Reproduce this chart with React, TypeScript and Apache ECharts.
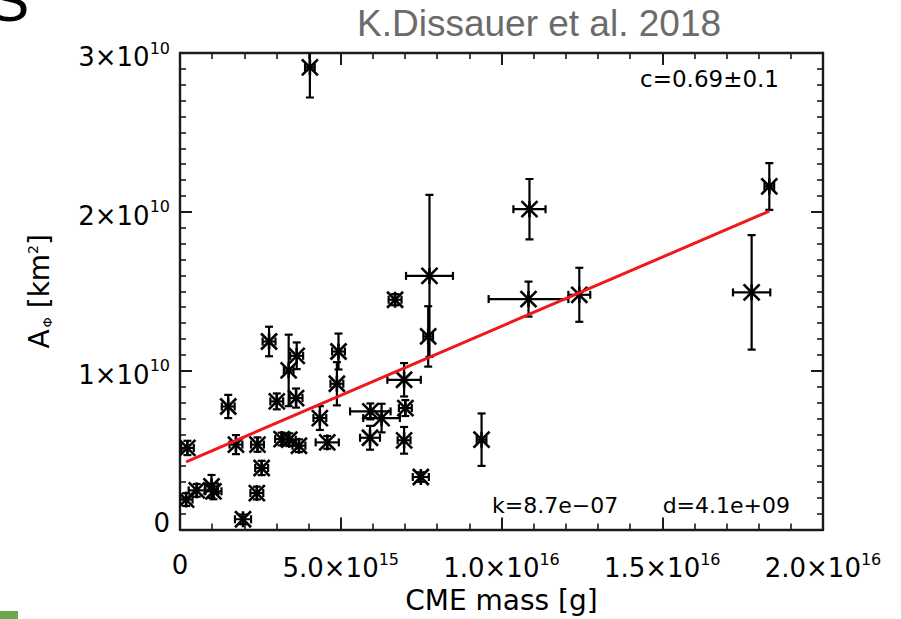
import { useEffect, useRef } from 'react';
import * as echarts from 'echarts';

// CME mass [g] with its uncertainty
const massG = [
  0.23e15, 0.19e15, 0.52e15, 0.98e15, 1.04e15, 1.5e15, 1.74e15, 1.96e15, 2.39e15, 2.54e15,
  2.41e15, 2.77e15, 3.01e15, 3.16e15, 3.4e15, 3.38e15, 3.63e15, 3.61e15, 3.7e15, 4.35e15,
  4.58e15, 4.93e15, 4.88e15, 5.91e15, 5.92e15, 6.27e15, 6.97e15, 7.01e15, 6.97e15, 6.69e15,
  7.49e15, 7.72e15, 7.76e15, 9.38e15, 4.04e15, 10.84e15, 12.42e15, 17.78e15, 10.87e15, 18.33e15,
];
const massErrG = [
  0.2e15, 0.2e15, 0.25e15, 0.2e15, 0.25e15, 0.2e15, 0.2e15, 0.25e15, 0.2e15, 0.2e15,
  0.2e15, 0.2e15, 0.2e15, 0.2e15, 0.2e15, 0.15e15, 0.2e15, 0.2e15, 0.2e15, 0.2e15,
  0.36e15, 0.2e15, 0.2e15, 0.31e15, 0.63e15, 0.57e15, 0.52e15, 0.2e15, 0.2e15, 0.2e15,
  0.25e15, 0.15e15, 0.73e15, 0.15e15, 0.15e15, 1.24e15, 0.34e15, 0.58e15, 0.5e15, 0.15e15,
];
// Dimming area A_Φ [km²] with its uncertainty
const areaKm2 = [
  5.14e9, 1.89e9, 2.47e9, 2.72e9, 2.41e9, 7.75e9, 5.35e9, 0.65e9, 2.3e9, 3.88e9,
  5.35e9, 11.84e9, 8.07e9, 5.7e9, 5.66e9, 10.02e9, 10.94e9, 8.28e9, 5.28e9, 7.02e9,
  5.49e9, 11.21e9, 9.18e9, 5.78e9, 7.44e9, 7.02e9, 9.43e9, 7.65e9, 5.62e9, 14.47e9,
  3.31e9, 12.16e9, 15.97e9, 5.66e9, 29.1e9, 14.51e9, 14.78e9, 14.93e9, 20.17e9, 21.6e9,
];
const areaErrKm2 = [
  0.45e9, 0.4e9, 0.4e9, 0.72e9, 0.5e9, 0.73e9, 0.6e9, 0.3e9, 0.4e9, 0.45e9,
  0.45e9, 0.93e9, 0.5e9, 0.4e9, 0.4e9, 2.25e9, 0.84e9, 0.6e9, 0.4e9, 0.75e9,
  0.4e9, 1.13e9, 1.36e9, 0.75e9, 0.5e9, 0.9e9, 1.05e9, 0.5e9, 0.84e9, 0.35e9,
  0.3e9, 1.9e9, 5.1e9, 1.65e9, 1.9e9, 1.1e9, 1.7e9, 3.6e9, 1.9e9, 1.47e9,
];

// Linear fit A = k·m + d and correlation coefficient
const fitSlope = 8.7e-7;
const fitOffset = 4.1e9;
const corrText = '0.69±0.1';

const xTickLabels = ['0', '5.0×10^15', '1.0×10^16', '1.5×10^16', '2.0×10^16'];
const yTickLabels = ['0', '1×10^10', '2×10^10', '3×10^10'];

const FONT = 'DejaVu Sans';
const INK = '#1a1a1a';

const richTick = (label: string, zeroKey = 'b') => {
  const [base, exp] = label.split('^');
  if (!exp) return `{${zeroKey}|${base}}`;
  return `{b|${base}}{e|${exp}}`;
};

const xRich = {
  b: { fontFamily: FONT, fontSize: 26, color: '#000' },
  e: { fontFamily: FONT, fontSize: 16, color: '#000', padding: [0, 0, 17, 0] },
};
const yRich = {
  b: { fontFamily: FONT, fontSize: 26, color: '#000', padding: [8, 0, 0, 0] },
  e: { fontFamily: FONT, fontSize: 16, color: '#000', padding: [0, 0, 10, 0] },
  z: { fontFamily: FONT, fontSize: 26, color: '#000', padding: [0, 0, 14, 0] },
};

const idlExp = (v: number) => {
  const [m, e] = v.toExponential(1).split('e');
  const sign = e[0] === '-' ? '−' : '+';
  return `${m}e${sign}${e.replace(/^[+-]/, '').padStart(2, '0')}`;
};

export default function App() {
  const ref = useRef<HTMLDivElement>(null);

  useEffect(() => {
    if (!ref.current) return;
    const chart = echarts.init(ref.current, undefined, { renderer: 'svg' });

    const points = massG.map((m, i) => [m, areaKm2[i], massErrG[i], areaErrKm2[i]]);
    const xMin = Math.min(...massG);
    const xMax = Math.max(...massG);
    const fitLine = [xMin, xMax].map((m) => [m, fitSlope * m + fitOffset]);

    const axisBase = {
      type: 'value' as const,
      splitLine: { show: false },
      axisLine: { show: true, onZero: false, lineStyle: { color: INK, width: 2.4 } },
      axisTick: { show: true, inside: true, length: 12, lineStyle: { color: INK, width: 2 } },
    };

    const xBase = {
      ...axisBase,
      min: 0,
      max: 2e16,
      interval: 5e15,
      minorTick: { show: true, splitNumber: 5, length: 6, lineStyle: { color: INK, width: 1.6 } },
    };
    const yBase = {
      ...axisBase,
      min: 0,
      max: 3e10,
      interval: 1e10,
      minorTick: { show: true, splitNumber: 10, length: 6, lineStyle: { color: INK, width: 1.6 } },
    };

    const seg = (x1: number, y1: number, x2: number, y2: number, w = 2.2) => ({
      type: 'line',
      shape: { x1, y1, x2, y2 },
      style: { stroke: '#000', lineWidth: w },
    });

    chart.setOption({
      animation: false,
      backgroundColor: '#fff',
      grid: { left: 180, top: 53, right: 78, bottom: 89, containLabel: false },
      xAxis: [
        {
          ...xBase,
          position: 'bottom',
          axisLabel: {
            margin: 22,
            formatter: (v: number) => richTick(xTickLabels[Math.round(v / 5e15)] ?? ''),
            rich: xRich,
          },
          name: 'CME mass [g]',
          nameLocation: 'middle',
          nameGap: 52,
          nameTextStyle: { fontFamily: FONT, fontSize: 28, color: '#000' },
        },
        { ...xBase, position: 'top', axisLabel: { show: false } },
      ],
      yAxis: [
        {
          ...yBase,
          position: 'left',
          axisLabel: {
            margin: 10,
            formatter: (v: number) => richTick(yTickLabels[Math.round(v / 1e10)] ?? '', 'z'),
            rich: yRich,
          },
          name: '{a|A}{s|Φ}{a| [km}{e|2}{a|]}',
          nameLocation: 'middle',
          nameGap: 126,
          nameTextStyle: {
            rich: {
              a: { fontFamily: FONT, fontSize: 28, color: '#000' },
              s: { fontFamily: FONT, fontSize: 13, color: '#000', padding: [16, 0, 0, 2] },
              e: { fontFamily: FONT, fontSize: 14, color: '#000', padding: [0, 0, 14, 0] },
            },
          },
        },
        { ...yBase, position: 'right', axisLabel: { show: false } },
      ],
      series: [
        {
          type: 'custom',
          xAxisIndex: 0,
          yAxisIndex: 0,
          clip: true,
          data: points,
          encode: { x: 0, y: 1 },
          renderItem: (_params: any, api: any) => {
            const x = api.value(0);
            const y = api.value(1);
            const xe = api.value(2);
            const ye = api.value(3);
            const [cx, cy] = api.coord([x, y]);
            const xl = api.coord([x - xe, y])[0];
            const xr = api.coord([x + xe, y])[0];
            const yt = api.coord([x, y + ye])[1];
            const yb = api.coord([x, y - ye])[1];
            const cap = 4;
            const s = 8;
            return {
              type: 'group',
              children: [
                seg(cx, yt, cx, yb),
                seg(cx - cap, yt, cx + cap, yt),
                seg(cx - cap, yb, cx + cap, yb),
                seg(xl, cy, xr, cy),
                seg(xl, cy - cap, xl, cy + cap),
                seg(xr, cy - cap, xr, cy + cap),
                seg(cx - s, cy - s, cx + s, cy + s, 2.6),
                seg(cx - s, cy + s, cx + s, cy - s, 2.6),
                seg(cx, cy - s, cx, cy + s, 2.6),
              ],
            };
          },
          z: 2,
        },
        {
          type: 'line',
          xAxisIndex: 0,
          yAxisIndex: 0,
          data: fitLine,
          symbol: 'none',
          lineStyle: { color: '#f01818', width: 3 },
          z: 3,
        },
      ],
      graphic: [
        {
          type: 'text',
          left: 357,
          top: 5,
          style: { text: 'K.Dissauer et al. 2018', fontFamily: 'Liberation Sans', fontSize: 37, fill: '#6b6b6b' },
        },
        {
          type: 'text',
          x: -12,
          y: 30,
          style: { text: 'S', fontFamily: 'Liberation Sans', fontSize: 62, fill: '#000', verticalAlign: 'bottom' },
        },
        {
          type: 'text',
          x: 779,
          y: 79,
          style: { text: `c=${corrText}`, fontFamily: FONT, fontSize: 23, fill: '#000', align: 'right', verticalAlign: 'middle' },
        },
        {
          type: 'text',
          x: 492,
          y: 505,
          style: { text: `k=${idlExp(fitSlope)}`, fontFamily: FONT, fontSize: 22, fill: '#000', align: 'left', verticalAlign: 'middle' },
        },
        {
          type: 'text',
          x: 790,
          y: 505,
          style: { text: `d=${idlExp(fitOffset)}`, fontFamily: FONT, fontSize: 22, fill: '#000', align: 'right', verticalAlign: 'middle' },
        },
        {
          type: 'rect',
          shape: { x: 0, y: 611, width: 18, height: 8 },
          style: { fill: '#6aa84f' },
        },
      ],
    });

    return () => chart.dispose();
  }, []);

  return (
    <div
      ref={ref}
      style={{ position: 'fixed', left: 0, top: 0, width: 901, height: 619, background: '#fff' }}
    />
  );
}
